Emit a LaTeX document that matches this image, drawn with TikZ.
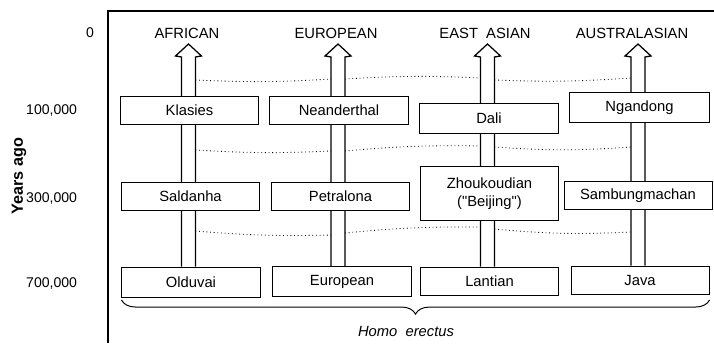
\documentclass[tikz,border=0pt]{standalone}
\usepackage{fontspec}
\setmainfont{Liberation Sans}
\usetikzlibrary{calc,backgrounds,decorations.pathreplacing}
\tikzset{
  site/.style={draw, line width=0.7pt, fill=white, inner sep=0pt,
    minimum width=3.45cm, minimum height=0.7cm, align=center},
  agelab/.style={anchor=east, font=\fontsize{10}{12}\selectfont},
  flow/.style={dotted, line width=0.6pt},
  lineage/.style={draw, fill=white, line width=0.9pt, line join=miter},
  clade/.style={decorate, line width=0.7pt,
    decoration={brace, amplitude=10pt, aspect=0.5}},
}

\begin{document}
\begin{tikzpicture}[x=0.025cm, y=-0.025cm, font=\fontsize{10.5}{12.5}\selectfont]
\useasboundingbox (0,0) rectangle (714,343);
% frame
\draw[line width=0.8pt] (714,11) -- (108,11) -- (108,343);
% time axis
\node[agelab] (t0) at (99,33) {0};
\node[agelab] (t1) at (82,110) {100,000};
\node[agelab] (t3) at (82,198) {300,000};
\node[agelab] (t7) at (82,283) {700,000};
\node[rotate=90, font=\fontsize{11.5}{13}\selectfont\bfseries] (yrs) at (19,176) {Years ago};
% regions
\node (afr) at (187,33) {AFRICAN};
\node (eur) at (336,33) {EUROPEAN};
\node (eas) at (485,33) {EAST\ \ ASIAN};
\node (aus) at (632,33) {AUSTRALASIAN};
\coordinate (tipAf) at (188.5,44);
\coordinate (tipEu) at (338,44);
\coordinate (tipEa) at (487.5,44);
\coordinate (tipAu) at (638,44);
% fossil sites
\node[site] (klasies) at (189.5,110) {Klasies};
\node[site] (neander) at (339,110) {Neanderthal};
\node[site, minimum height=0.73cm] (dali) at (489,118.5) {Dali};
\node[site, minimum width=3.52cm, minimum height=0.73cm] (ngandong) at (639.5,107.5) {Ngandong};
\node[site] (saldanha) at (190.5,196.5) {Saldanha};
\node[site] (petralona) at (340.5,196) {Petralona};
\node[site, minimum height=1.33cm] (zhou) at (489.5,193.5) {Zhoukoudian\\(\textquotedbl Beijing\textquotedbl)};
\node[site, minimum width=3.7cm] (sambung) at (638,195.5) {Sambungmachan};
\node[site, minimum height=0.75cm] (olduvai) at (191,282) {Olduvai};
\node[site, minimum height=0.73cm] (europ) at (342,281.5) {European};
\node[site] (lantian) at (489.5,281) {Lantian};
\node[site] (java) at (640,280) {Java};
% lineages and gene flow
\begin{scope}[on background layer]
\foreach \b/\t in {olduvai/tipAf, europ/tipEu, lantian/tipEa, java/tipAu}
  \draw[lineage] ($(\t |- \b.north)+(-7,0)$) -- ($(\t)+(-7,13)$) -- ($(\t)+(-13,12)$)
    -- (\t) -- ($(\t)+(13,12)$) -- ($(\t)+(7,13)$) -- ($(\t |- \b.north)+(7,0)$);
\draw[flow] ($(tipAf)+(7,36)$) to[bend right=3] ($(tipEu)+(-7,35)$);
\draw[flow] ($(tipEu)+(7,35)$) to[bend left=3] ($(tipEa)+(-7,34)$);
\draw[flow] ($(tipEa)+(7,36)$) to[bend right=3] ($(tipAu)+(-7,34)$);
\draw[flow] ($(tipAf)+(7,106)$) to[bend right=3] ($(tipEu)+(-7,107)$);
\draw[flow] ($(tipEu)+(7,107)$) to[bend left=3] ($(tipEa)+(-7,102)$);
\draw[flow] ($(tipEa)+(7,103)$) to[bend right=4] ($(tipAu)+(-7,103)$);
\draw[flow] ($(tipAf)+(7,187)$) to[bend right=3] ($(tipEu)+(-7,191)$);
\draw[flow] ($(tipEu)+(7,189)$) to[bend left=3] ($(tipEa)+(-7,183)$);
\draw[flow] ($(tipEa)+(7,185)$) to[bend right=4] ($(tipAu)+(-7,188)$);
\end{scope}
% Homo erectus
\draw[clade] (java.south east |- 0,300) -- (olduvai.south west |- 0,300);
\node[font=\fontsize{10.5}{12.5}\selectfont\itshape] (herectus) at (406,331) {Homo\ \ erectus};
\end{tikzpicture}
\end{document}
